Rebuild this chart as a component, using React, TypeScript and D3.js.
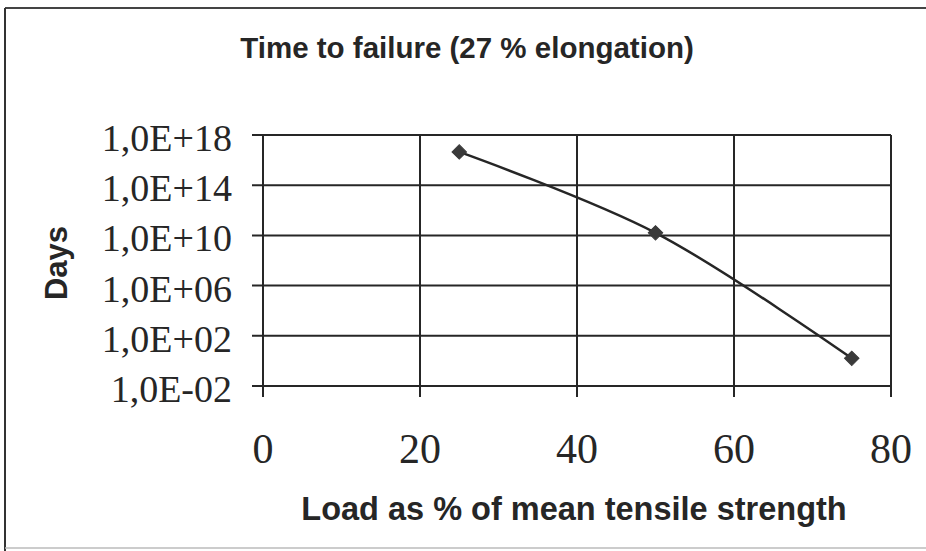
import React from 'react';
import * as d3 from 'd3';

// load (% of mean tensile strength) vs. time to failure (days)
const loads = [25, 50, 75];
const days = [4.5e16, 1.6e10, 1.6];

const xTicks = [0, 20, 40, 60, 80];
const yTicks = [1e-2, 1e2, 1e6, 1e10, 1e14, 1e18];
const yTickLabels = ['1,0E-02', '1,0E+02', '1,0E+06', '1,0E+10', '1,0E+14', '1,0E+18'];

const W = 926;
const H = 551;
const ink = '#262626';
const sans = '"Liberation Sans", Arial, sans-serif';
const serif = '"Liberation Serif", "Times New Roman", serif';

const App: React.FC = () => {
  const x = d3.scaleLinear().domain([0, 80]).range([263, 891]);
  const y = d3.scaleLog().domain([1e-2, 1e18]).range([386, 135]);

  const pts: [number, number][] = loads.map((l, i) => [x(l), y(days[i])]);
  const line = d3.line().curve(d3.curveCatmullRom.alpha(0.5))(pts) || '';
  const diamond = d3.symbol(d3.symbolSquare, 105)() || '';

  const [x0, x1] = x.range();
  const [y0, y1] = y.range();

  return (
    <svg
      width={W}
      height={H}
      style={{ position: 'absolute', left: 0, top: 0, background: '#fff' }}
    >
      {/* chart frame */}
      <line x1={5} x2={W} y1={8} y2={8} stroke="#444" strokeWidth={2} />
      <line x1={5} x2={5} y1={8} y2={H} stroke="#333" strokeWidth={2} />
      <line x1={5} x2={W} y1={548} y2={548} stroke="#bbb" strokeWidth={1.5} />

      <text
        x={467}
        y={58}
        textAnchor="middle"
        fontFamily={sans}
        fontWeight="bold"
        fontSize={29.5}
        fill={ink}
      >
        Time to failure (27 % elongation)
      </text>

      {/* grid */}
      {xTicks.map(t => (
        <line key={'gx' + t} x1={x(t)} x2={x(t)} y1={y1} y2={y0 + 11} stroke={ink} strokeWidth={2} />
      ))}
      {yTicks.map(t => (
        <line key={'gy' + t} x1={x0 - 11} x2={x1} y1={y(t)} y2={y(t)} stroke={ink} strokeWidth={2} />
      ))}

      {/* tick labels */}
      {yTicks.map((t, i) => (
        <text
          key={'ly' + t}
          x={232}
          y={y(t) + 16}
          textAnchor="end"
          fontFamily={serif}
          fontSize={38}
          fill={ink}
        >
          {yTickLabels[i]}
        </text>
      ))}
      {xTicks.map(t => (
        <text
          key={'lx' + t}
          x={x(t)}
          y={463}
          textAnchor="middle"
          fontFamily={serif}
          fontSize={42}
          fill={ink}
        >
          {t}
        </text>
      ))}

      {/* axis titles */}
      <text
        transform="translate(67,263) rotate(-90)"
        textAnchor="middle"
        fontFamily={sans}
        fontWeight="bold"
        fontSize={31}
        fill={ink}
      >
        Days
      </text>
      <text
        x={574}
        y={520}
        textAnchor="middle"
        fontFamily={sans}
        fontWeight="bold"
        fontSize={32.5}
        fill={ink}
      >
        Load as % of mean tensile strength
      </text>

      {/* series */}
      <path d={line} fill="none" stroke={ink} strokeWidth={2.5} />
      {pts.map(([px, py], i) => (
        <path
          key={'m' + i}
          d={diamond}
          transform={`translate(${px},${py}) rotate(45)`}
          fill="#3a3a3a"
          stroke="#3a3a3a"
        />
      ))}
    </svg>
  );
};

export default App;
